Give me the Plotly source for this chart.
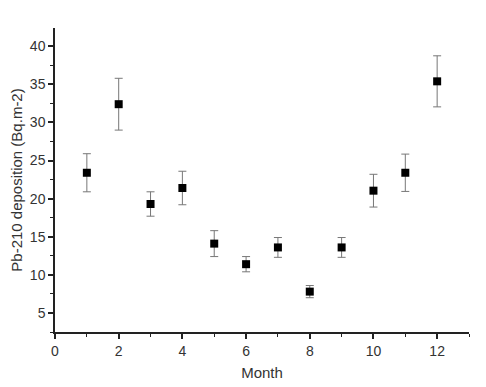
import plotly.graph_objects as go

months = [1, 2, 3, 4, 5, 6, 7, 8, 9, 10, 11, 12]
deposition = [23.4, 32.4, 19.3, 21.4, 14.1, 11.4, 13.6, 7.8, 13.6, 21.05, 23.4, 35.4]
errors = [2.5, 3.4, 1.6, 2.2, 1.7, 1.0, 1.3, 0.8, 1.3, 2.15, 2.45, 3.35]
x_ticks = [0, 2, 4, 6, 8, 10, 12]
y_ticks = [5, 10, 15, 20, 25, 30, 35, 40]

FONT = "Liberation Sans, Arial"

fig = go.Figure()
fig.add_trace(go.Scatter(
    x=months, y=deposition, mode="markers",
    marker=dict(symbol="square", size=8, color="black"),
    error_y=dict(type="data", array=errors, visible=True, color="#777777", thickness=1, width=4),
    showlegend=False,
))

axis_common = dict(
    showgrid=False, zeroline=False, showline=True, linecolor="#222222", linewidth=1.5,
    ticks="outside", ticklen=5, tickwidth=1.5, tickcolor="#222222",
    tickfont=dict(family=FONT, size=14, color="#333333"),
    minor=dict(ticks="outside", ticklen=3, tickwidth=1.2, tickcolor="#222222"),
    mirror=False, automargin=False,
)

fig.update_xaxes(range=[0, 13], tickvals=x_ticks, minor_dtick=1,
                 title=dict(text="Month", font=dict(family=FONT, size=15, color="#333333"), standoff=10),
                 **axis_common)
fig.update_yaxes(range=[2.5, 42.4], tickvals=y_ticks, minor_dtick=2.5,
                 title=dict(text="Pb-210 deposition (Bq.m-2)", font=dict(family=FONT, size=15, color="#333333"), standoff=8),
                 **axis_common)

# page body has an 8px default margin, so the figure is sized to fit the window
fig.update_layout(
    width=478, height=379,
    margin=dict(l=47, r=17, t=20, b=55),
    plot_bgcolor="white", paper_bgcolor="white",
)

fig.write_html("out.html")
